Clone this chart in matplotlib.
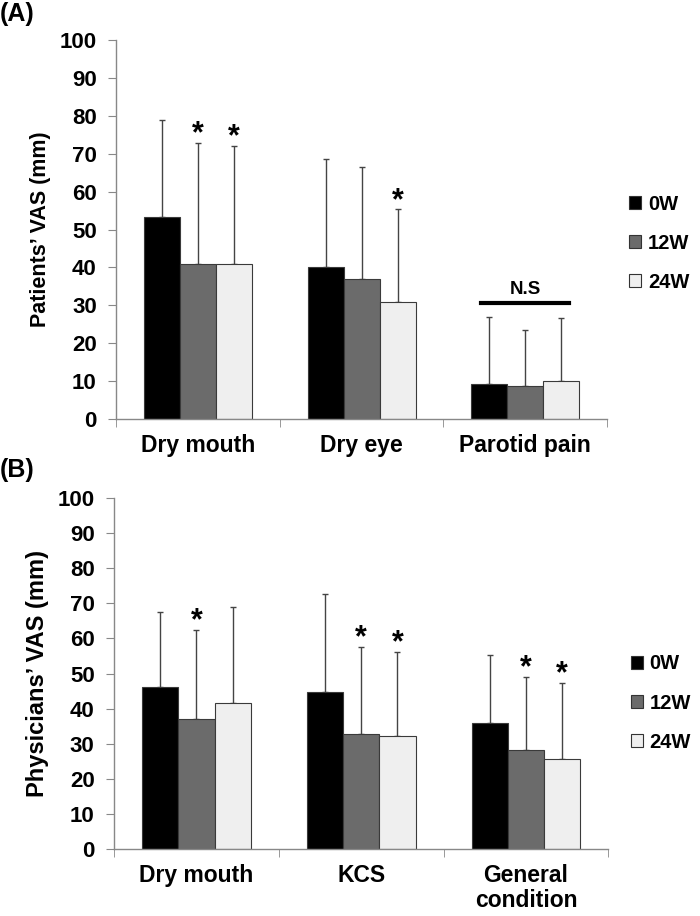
import numpy as np
import matplotlib
matplotlib.use('Agg')
import matplotlib.pyplot as plt

plt.rcParams['font.family'] = ['Liberation Sans', 'DejaVu Sans']
plt.rcParams['font.weight'] = 'bold'

# データ
weeks = ['0W', '12W', '24W']
colors = ['#000000', '#6b6b6b', '#efefef']

cats_a = ['Dry mouth', 'Dry eye', 'Parotid pain']
mean_a = [[53.2, 40.0, 9.2],   # 0W
          [41.0, 36.9, 8.8],   # 12W
          [41.0, 30.8, 10.0]]  # 24W
top_a = [[78.8, 68.7, 27.0],
         [72.9, 66.4, 23.5],
         [72.1, 55.4, 26.6]]
star_a = [[False, False, False],
          [True, False, False],
          [True, True, False]]

cats_b = ['Dry mouth', 'KCS', 'General\ncondition']
mean_b = [[46.2, 44.8, 35.8],
          [37.1, 32.7, 28.1],
          [41.6, 32.3, 25.6]]
top_b = [[67.6, 72.6, 55.3],
         [62.5, 57.6, 49.1],
         [69.0, 56.2, 47.3]]
star_b = [[False, False, False],
          [True, True, True],
          [False, True, True]]

fig = plt.figure(figsize=(7, 9.16), dpi=100)
ax_a = fig.add_axes([0.166, 0.5426, 0.701, 0.4137])
ax_b = fig.add_axes([0.163, 0.0731, 0.706, 0.3832])


def draw_panel(ax, cats, means, tops, stars, ylabel, ylsize, tag, tag_y, leg_y):
    x = np.arange(len(cats))
    w = 0.22
    for i, wk in enumerate(weeks):
        pos = x + (i - 1) * w
        m = np.array(means[i])
        t = np.array(tops[i])
        ax.bar(pos, m, w, color=colors[i], edgecolor='#3a3a3a', linewidth=0.8, label=wk, zorder=2)
        ax.errorbar(pos, m, yerr=[np.zeros_like(m), t - m], fmt='none',
                    ecolor='#444444', elinewidth=1.0, capsize=2.5, capthick=1.0, zorder=1)
        for j in range(len(cats)):
            if stars[i][j]:
                ax.text(pos[j], t[j] - 1.8, '*', ha='center', va='bottom', fontsize=22, fontweight='bold')
    ax.set_xlim(-0.5, len(cats) - 0.5)
    ax.set_ylim(0, 100)
    ax.set_yticks(range(0, 101, 10))
    ax.set_xticks(x)
    ax.set_xticklabels(cats, fontsize=16.5, fontweight='bold', linespacing=1.1)
    ax.set_xticks(np.arange(-0.5, len(cats), 1), minor=True)
    ax.tick_params(axis='x', which='major', length=0, pad=11)
    ax.tick_params(axis='x', which='minor', length=6, color='#888888', direction='out')
    ax.tick_params(axis='y', length=6, color='#888888', labelsize=16, pad=8)
    for lab in ax.get_yticklabels():
        lab.set_fontweight('bold')
    for s in ['top', 'right']:
        ax.spines[s].set_visible(False)
    for s in ['left', 'bottom']:
        ax.spines[s].set_color('#888888')
        ax.spines[s].set_linewidth(1.0)
    ax.set_ylabel(ylabel, fontsize=ylsize, fontweight='bold', labelpad=6)
    leg = ax.legend(loc='center left', bbox_to_anchor=(1.045, leg_y), frameon=False,
                    fontsize=14.5, handlelength=0.6, handleheight=0.6, handletextpad=0.35,
                    labelspacing=1.0, borderaxespad=0, borderpad=0)
    for h in leg.legend_handles:
        h.set_edgecolor('#333333')
    for t in leg.get_texts():
        t.set_fontweight('bold')
    fig.text(0.0, tag_y, tag, fontsize=18, fontweight='bold', ha='left', va='top')


draw_panel(ax_a, cats_a, mean_a, top_a, star_a, 'Patients\u2019 VAS (mm)', 15.5, '(A)', 0.998, 0.464)
draw_panel(ax_b, cats_b, mean_b, top_b, star_b, 'Physicians\u2019 VAS (mm)', 17, '(B)', 0.5, 0.416)

# N.S bracket over Parotid pain
ax_a.plot([1.73, 2.27], [30.6, 30.6], color='black', linewidth=3)
ax_a.text(2.0, 32.0, 'N.S', ha='center', va='bottom', fontsize=13.5, fontweight='bold')

fig.savefig('out.png', dpi=100)
